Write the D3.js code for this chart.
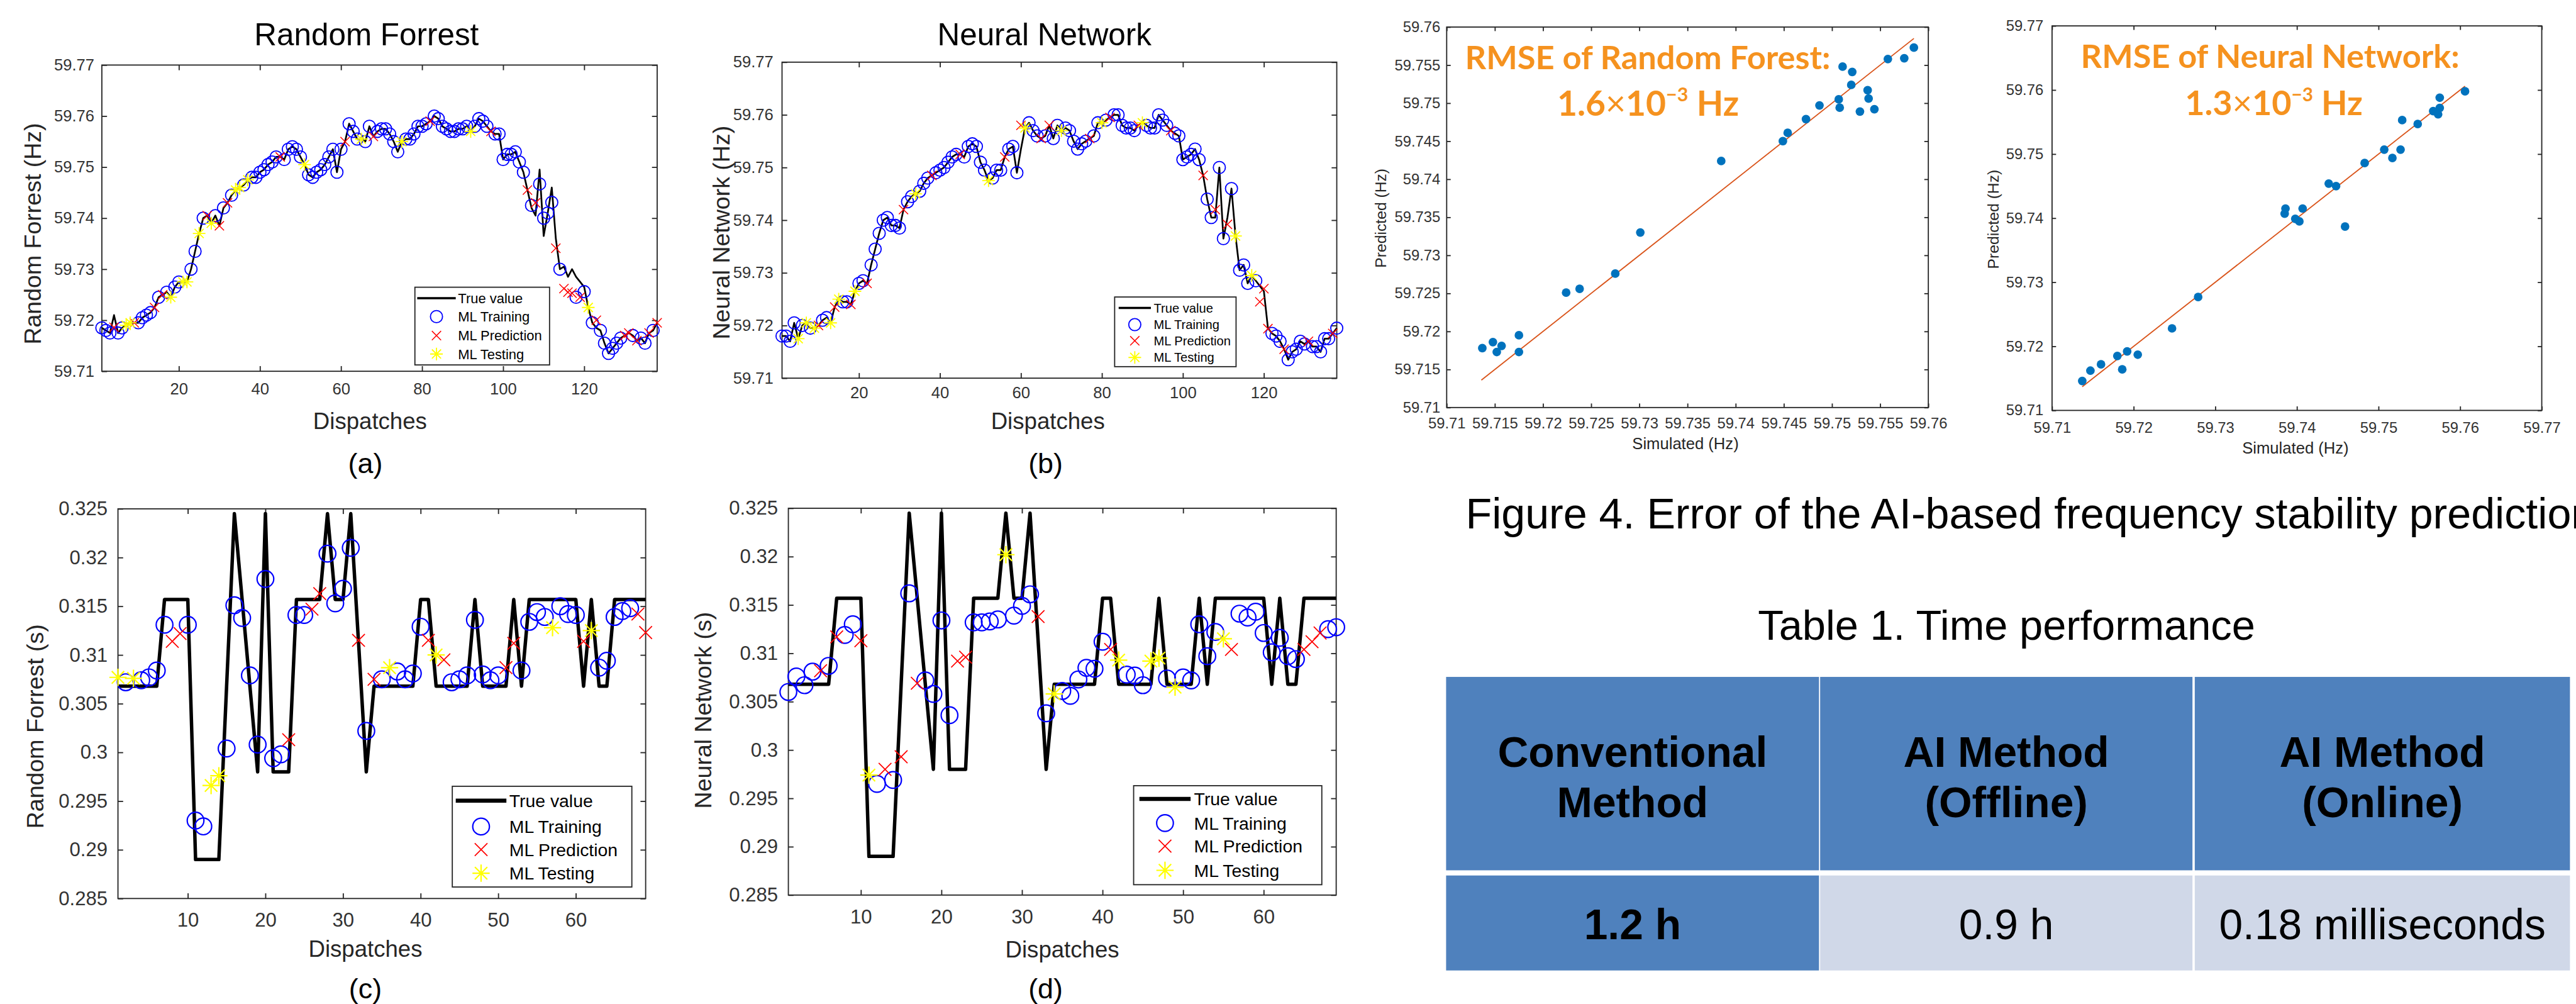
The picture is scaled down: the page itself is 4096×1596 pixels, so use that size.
<!DOCTYPE html>
<html>
<head>
<meta charset="utf-8">
<script src="https://cdn.jsdelivr.net/npm/d3@7"></script>
<style>
  body { margin: 0; background: #fff; overflow: hidden; }
  svg { display: block; }
</style>
</head>
<body>
<script>
// ---- data ----
const trueA = [
  59.7185, 59.718, 59.7175, 59.721, 59.7175, 59.7185, 59.719, 59.7195, 59.7195, 59.7195,
  59.7205, 59.721, 59.7215, 59.7225, 59.7245, 59.725, 59.7255, 59.7245, 59.7265, 59.7275,
  59.7275, 59.7275, 59.730, 59.7335, 59.737, 59.740, 59.7405, 59.739, 59.7405, 59.7385,
  59.742, 59.743, 59.7445, 59.7455, 59.746, 59.7465, 59.7475, 59.748, 59.748, 59.749,
  59.7495, 59.7505, 59.751, 59.752, 59.752, 59.7515, 59.7535, 59.754, 59.7535, 59.752,
  59.7505, 59.7485, 59.748, 59.749, 59.7495, 59.7505, 59.752, 59.7535, 59.749, 59.7535,
  59.755, 59.7585, 59.757, 59.7555, 59.7555, 59.755, 59.758, 59.756, 59.757, 59.7575,
  59.7575, 59.7565, 59.755, 59.753, 59.755, 59.7555, 59.7555, 59.7565, 59.758, 59.758,
  59.7585, 59.759, 59.760, 59.7595, 59.758, 59.7575, 59.757, 59.757, 59.7575, 59.7575,
  59.758, 59.757, 59.758, 59.7595, 59.759, 59.758, 59.757, 59.7565, 59.7565, 59.7515,
  59.7525, 59.7525, 59.753, 59.751, 59.749, 59.7455, 59.742, 59.7405, 59.7495, 59.7365,
  59.741, 59.746, 59.736, 59.730, 59.7305, 59.7285, 59.730, 59.7285, 59.7275, 59.7265,
  59.7225, 59.7195, 59.7185, 59.718, 59.7155, 59.7135, 59.7145, 59.7155, 59.7165, 59.717,
  59.7175, 59.717, 59.716, 59.7165, 59.7155, 59.7175, 59.718, 59.7195
];
const devA = [[4, 59.7186], [107, 59.7425], [108, 59.743], [109, 59.7467], [110, 59.740],
  [112, 59.7431], [113, 59.7341], [115, 59.7262], [116, 59.7255], [117, 59.7253],
  [118, 59.7245], [119, 59.7245], [120, 59.7256], [121, 59.7225], [123, 59.720]];
const testA = [7, 8, 18, 21, 22, 25, 28, 34, 35, 37, 51, 65, 75, 92, 121];
const predIdxA = [4, 9, 14, 16, 27, 30, 32, 45, 61, 68, 82, 97, 106, 108, 113, 115, 116, 117, 119, 123, 130, 131, 133, 136, 138];

const trueB = [
  59.718, 59.718, 59.717, 59.7205, 59.7175, 59.720, 59.7205, 59.7195, 59.7195, 59.720,
  59.721, 59.7215, 59.7205, 59.7235, 59.725, 59.7245, 59.7245, 59.724, 59.7265, 59.728,
  59.7285, 59.728, 59.7315, 59.7345, 59.7375, 59.740, 59.7405, 59.739, 59.739, 59.7385,
  59.742, 59.7435, 59.7445, 59.745, 59.7455, 59.747, 59.748, 59.7485, 59.749, 59.7495,
  59.750, 59.751, 59.752, 59.7525, 59.7525, 59.752, 59.754, 59.7545, 59.754, 59.751,
  59.7495, 59.7475, 59.748, 59.7495, 59.7495, 59.752, 59.7535, 59.754, 59.749, 59.7535,
  59.7575, 59.7585, 59.757, 59.756, 59.7555, 59.756, 59.758, 59.7555, 59.758, 59.757,
  59.7575, 59.757, 59.755, 59.7535, 59.7545, 59.755, 59.7555, 59.756, 59.7585, 59.7585,
  59.759, 59.7595, 59.760, 59.760, 59.758, 59.7575, 59.7575, 59.757, 59.758, 59.7585,
  59.758, 59.7575, 59.7575, 59.760, 59.759, 59.758, 59.757, 59.7565, 59.756, 59.7515,
  59.752, 59.7525, 59.7535, 59.7515, 59.7485, 59.744, 59.7405, 59.7405, 59.750, 59.7365,
  59.7405, 59.746, 59.737, 59.7305, 59.7315, 59.728, 59.7295, 59.7285, 59.7275, 59.7265,
  59.7195, 59.7185, 59.718, 59.717, 59.7155, 59.7135, 59.715, 59.7155, 59.717, 59.7165,
  59.717, 59.716, 59.716, 59.715, 59.7175, 59.7175, 59.7185, 59.7195
];
const devB = [[60, 59.758], [108, 59.742], [111, 59.7392], [119, 59.7245], [120, 59.727], [121, 59.7194]];
const testB = [5, 7, 9, 13, 15, 19, 34, 52, 61, 70, 80, 90, 113, 117];
const predIdxB = [10, 14, 18, 22, 31, 38, 45, 56, 60, 65, 67, 77, 82, 89, 97, 105, 108, 111, 119, 120, 121, 125, 131, 137];

const trueC = [
  0.3068, 0.3068, 0.3068, 0.3068, 0.3068, 0.3068, 0.3157, 0.3157, 0.3157, 0.3157,
  0.289, 0.289, 0.289, 0.289, 0.3068, 0.3245, 0.3157, 0.3068, 0.298, 0.3245,
  0.298, 0.298, 0.298, 0.3157, 0.3157, 0.3157, 0.3157, 0.3245, 0.3157, 0.3157,
  0.3245, 0.3113, 0.298, 0.3068, 0.3068, 0.3068, 0.3068, 0.3068, 0.3068, 0.3157,
  0.3157, 0.3068, 0.3068, 0.3068, 0.3068, 0.3068, 0.3157, 0.3068, 0.3068, 0.3068,
  0.3068, 0.3157, 0.3068, 0.3157, 0.3157, 0.3157, 0.3157, 0.3157, 0.3157, 0.3157,
  0.3068, 0.3157, 0.3068, 0.3068, 0.3157, 0.3157, 0.3157, 0.3157, 0.3157
];
const predC = [
  0.3077, 0.3072, 0.3076, 0.3074, 0.3077, 0.3084, 0.3131, 0.3114, 0.3122, 0.3131,
  0.293, 0.2924, 0.2966, 0.2976, 0.3004, 0.3151, 0.3138, 0.3079, 0.3008, 0.3178,
  0.2994, 0.2998, 0.3013, 0.3141, 0.3141, 0.3147, 0.3163, 0.3204, 0.3153, 0.3168,
  0.321, 0.3115, 0.3022, 0.3075, 0.3075, 0.3087, 0.3083, 0.3075, 0.3081, 0.3129,
  0.3115, 0.31, 0.3095, 0.3072, 0.3075, 0.3079, 0.3136, 0.308, 0.3074, 0.3079,
  0.3087, 0.3112, 0.3084, 0.3134, 0.3144, 0.3139, 0.3128, 0.315, 0.3142, 0.3141,
  0.3114, 0.3125, 0.3087, 0.3094, 0.3139, 0.3145, 0.3148, 0.3142, 0.3123
];
const testC = [1, 3, 13, 14, 36, 42, 57, 62];
const predIdxC = [8, 9, 23, 26, 27, 32, 34, 41, 43, 51, 52, 61, 68, 69];

const predD = [
  0.306, 0.3076, 0.3067, 0.3081, 0.3082, 0.3087, 0.3117, 0.3119, 0.313, 0.3113,
  0.2974, 0.2965, 0.298, 0.2969, 0.2993, 0.3162, 0.3069, 0.3072, 0.3058, 0.3134,
  0.3036, 0.3092, 0.3096, 0.3132, 0.3132, 0.3133, 0.3135, 0.3202, 0.3139, 0.3149,
  0.3161, 0.3138, 0.3038, 0.3058, 0.3061, 0.3056, 0.3073, 0.3085, 0.3084, 0.3112,
  0.3104, 0.3093, 0.3078, 0.3077, 0.3067, 0.3092, 0.3095, 0.3074, 0.3065, 0.3075,
  0.3072, 0.313, 0.3097, 0.3122, 0.3115, 0.3104, 0.3141, 0.3137, 0.3143, 0.3121,
  0.3101, 0.3116, 0.3097, 0.3094, 0.3104, 0.3112, 0.3121, 0.3125, 0.3127
];
const testD = [11, 28, 34, 42, 46, 47, 49, 55];
const predIdxD = [5, 7, 10, 13, 15, 17, 22, 23, 32, 41, 56, 65, 66, 67];

const simRF = [59.7137, 59.7148, 59.7152, 59.7157, 59.7175, 59.7175, 59.7224, 59.7238, 59.7275,
  59.7301, 59.7385, 59.7449, 59.7454, 59.7473, 59.7487, 59.7507, 59.7508, 59.7511, 59.7521,
  59.752, 59.7529, 59.7537, 59.7538, 59.7544, 59.7558, 59.7575, 59.7585];
const prdRF = [59.7178, 59.7186, 59.7173, 59.7181, 59.7195, 59.7173, 59.7251, 59.7256, 59.7276,
  59.733, 59.7424, 59.745, 59.7461, 59.7479, 59.7497, 59.7505, 59.7494, 59.7548, 59.7541,
  59.7524, 59.7489, 59.7517, 59.7506, 59.7492, 59.7558, 59.7559, 59.7573];
const fitRF = [59.7136, 59.7585];

const simNN = [59.7137, 59.7147, 59.716, 59.718, 59.7186, 59.7192, 59.7205, 59.7247, 59.7279,
  59.7385, 59.7386, 59.7398, 59.7403, 59.7407, 59.7439, 59.7448, 59.7459, 59.7483, 59.7507,
  59.7517, 59.7527, 59.7529, 59.7548, 59.7567, 59.7573, 59.7575, 59.7575, 59.7606];
const prdNN = [59.7146, 59.7162, 59.7172, 59.7185, 59.7164, 59.7192, 59.7187, 59.7228, 59.7277,
  59.7407, 59.7415, 59.7399, 59.7395, 59.7415, 59.7454, 59.745, 59.7387, 59.7486, 59.7507,
  59.7494, 59.7507, 59.7553, 59.7547, 59.7567, 59.7562, 59.7588, 59.7572, 59.7598];
const fitNN = [59.7137, 59.7606];

const freqTicks = [59.71, 59.72, 59.73, 59.74, 59.75, 59.76, 59.77];
const dispTicksAB = [20, 40, 60, 80, 100, 120];
const timeTicks = [0.285, 0.29, 0.295, 0.3, 0.305, 0.31, 0.315, 0.32, 0.325];
const dispTicksCD = [10, 20, 30, 40, 50, 60];
const scatTicksRF = [59.71, 59.715, 59.72, 59.725, 59.73, 59.735, 59.74, 59.745, 59.75, 59.755, 59.76];

const legendLabels = ['True value', 'ML Training', 'ML Prediction', 'ML Testing'];
const tableHeader = [['Conventional', 'Method'], ['AI Method', '(Offline)'], ['AI Method', '(Online)']];
const tableRow = ['1.2 h', '0.9 h', '0.18 milliseconds'];

// ---- drawing ----
const FONT = '"Liberation Sans", Arial, sans-serif';
const AX = '#262626';
const ORANGE = '#F5921F';

const svg = d3.select('body').append('svg').attr('width', 4096).attr('height', 1596);
const root = svg.append('g').attr('transform', 'scale(0.915)');

function drawAxes(g, x, y, box, o) {
  const fmt = d => String(d);
  const none = () => '';
  const bottom = g.append('g').attr('transform', `translate(0,${box.y1})`)
    .call(d3.axisBottom(x).tickValues(o.xTicks).tickFormat(fmt).tickSize(-o.tick).tickSizeOuter(0).tickPadding(o.padX));
  const left = g.append('g').attr('transform', `translate(${box.x0},0)`)
    .call(d3.axisLeft(y).tickValues(o.yTicks).tickFormat(fmt).tickSize(-o.tick).tickSizeOuter(0).tickPadding(o.padY));
  const top = g.append('g').attr('transform', `translate(0,${box.y0})`)
    .call(d3.axisTop(x).tickValues(o.xTicks).tickFormat(none).tickSize(-o.tick).tickSizeOuter(0));
  const right = g.append('g').attr('transform', `translate(${box.x1},0)`)
    .call(d3.axisRight(y).tickValues(o.yTicks).tickFormat(none).tickSize(-o.tick).tickSizeOuter(0));
  [bottom, left, top, right].forEach(a => {
    a.attr('font-family', FONT).attr('font-size', o.fs);
    a.select('.domain').remove();
    a.selectAll('.tick line').attr('stroke', AX).attr('stroke-width', 2);
    a.selectAll('.tick text').attr('fill', '#333');
  });
  g.append('rect')
    .attr('x', box.x0).attr('y', box.y0)
    .attr('width', box.x1 - box.x0).attr('height', box.y1 - box.y0)
    .attr('fill', 'none').attr('stroke', AX).attr('stroke-width', 2);
}

const xPath = s => `M${-s},${-s}L${s},${s}M${-s},${s}L${s},${-s}`;
const starPath = s => {
  const d = s * 0.72;
  return `M${-s},0L${s},0M0,${-s}L0,${s}M${-d},${-d}L${d},${d}M${-d},${d}L${d},${-d}`;
};

function drawMarker(g, kind, cx, cy, m) {
  if (kind === 'r') {
    g.append('circle').attr('cx', cx).attr('cy', cy).attr('r', m.r)
      .attr('fill', 'none').attr('stroke', '#0000FF').attr('stroke-width', m.sw);
  } else if (kind === 'p') {
    g.append('path').attr('transform', `translate(${cx},${cy})`).attr('d', xPath(m.xs))
      .attr('fill', 'none').attr('stroke', '#FF0000').attr('stroke-width', m.sw * 0.8);
  } else {
    g.append('path').attr('transform', `translate(${cx},${cy})`).attr('d', starPath(m.ss))
      .attr('fill', 'none').attr('stroke', '#FFFF00').attr('stroke-width', m.sw);
  }
}

function text(g, str, x, y, fs, opts = {}) {
  const t = g.append('text').attr('x', x).attr('y', y)
    .attr('font-family', opts.family || FONT).attr('font-size', fs)
    .attr('fill', opts.fill || '#000').attr('text-anchor', opts.anchor || 'middle')
    .text(str);
  if (opts.weight) t.attr('font-weight', opts.weight);
  return t;
}

function seriesPanel(p) {
  const g = root.append('g');
  const box = p.box;
  const x = d3.scaleLinear().domain(p.xDom).range([box.x0, box.x1]);
  const y = d3.scaleLinear().domain(p.yDom).range([box.y1, box.y0]);
  drawAxes(g, x, y, box, p.axis);

  const xs = d3.range(1, p.truth.length + 1);
  g.append('path').datum(xs)
    .attr('d', d3.line().x(i => x(i)).y(i => y(p.truth[i - 1])))
    .attr('fill', 'none').attr('stroke', '#000').attr('stroke-width', p.lw)
    .attr('stroke-linejoin', 'round');

  const dev = new Map(p.dev || []);
  const val = i => p.pred ? p.pred[i - 1] : (dev.has(i) ? dev.get(i) : p.truth[i - 1]);
  const kind = i => p.test.includes(i) ? 't' : (p.predIdx.includes(i) ? 'p' : 'r');
  const mg = g.append('g');
  ['r', 'p', 't'].forEach(k => {
    xs.filter(i => kind(i) === k).forEach(i => drawMarker(mg, k, x(i), y(val(i)), p.m));
  });

  // legend
  const L = p.legend;
  g.append('rect').attr('x', L.x0).attr('y', L.y0)
    .attr('width', L.x1 - L.x0).attr('height', L.y1 - L.y0)
    .attr('fill', '#fff').attr('stroke', AX).attr('stroke-width', 2);
  g.append('line').attr('x1', L.lx0).attr('x2', L.lx1).attr('y1', L.rows[0]).attr('y2', L.rows[0])
    .attr('stroke', '#000').attr('stroke-width', p.lw + 1);
  ['r', 'p', 't'].forEach((k, j) => drawMarker(g, k, (L.lx0 + L.lx1) / 2, L.rows[j + 1], p.m));
  legendLabels.forEach((s, j) => text(g, s, L.tx, L.rows[j] + L.fs * 0.36, L.fs, { anchor: 'start' }));

  // labels
  if (p.title) text(g, p.title, p.titleX, 79, 54);
  text(g, p.ylabel, 0, 0, 41, { fill: AX })
    .attr('transform', `translate(${p.ylab[0]},${p.ylab[1]}) rotate(-90)`).attr('x', 0).attr('y', 0)
    .attr('dy', '0.35em');
  text(g, 'Dispatches', p.xlab[0], p.xlab[1], 40, { fill: AX });
  text(g, p.tag, p.tagPos[0], p.tagPos[1], 49);
}

const mAB = { r: 10.5, xs: 8, ss: 11, sw: 2 };
const mCD = { r: 14.5, xs: 11, ss: 15, sw: 2.4 };

seriesPanel({
  box: { x0: 177, x1: 1142, y0: 113, y1: 645 }, xDom: [1, 138], yDom: [59.71, 59.77],
  axis: { xTicks: dispTicksAB, yTicks: freqTicks, tick: 9, fs: 28, padX: 20, padY: 13 },
  truth: trueA, dev: devA, test: testA, predIdx: predIdxA, lw: 3, m: mAB,
  legend: { x0: 721, x1: 955, y0: 499, y1: 634, rows: [518, 550, 583, 615], lx0: 725, lx1: 792, tx: 796, fs: 24 },
  title: 'Random Forrest', titleX: 637, ylabel: 'Random Forrest (Hz)', ylab: [57, 406],
  xlab: [643, 745], tag: '(a)', tagPos: [635, 822]
});
seriesPanel({
  box: { x0: 1359, x1: 2323, y0: 108, y1: 657 }, xDom: [1, 138], yDom: [59.71, 59.77],
  axis: { xTicks: dispTicksAB, yTicks: freqTicks, tick: 9, fs: 28, padX: 15, padY: 15 },
  truth: trueB, dev: devB, test: testB, predIdx: predIdxB, lw: 3, m: mAB,
  legend: { x0: 1937, x1: 2148, y0: 516, y1: 637, rows: [535, 564, 592, 621], lx0: 1944, lx1: 2000, tx: 2005, fs: 22 },
  title: 'Neural Network', titleX: 1815, ylabel: 'Neural Network (Hz)', ylab: [1253, 404],
  xlab: [1821, 745], tag: '(b)', tagPos: [1817, 822]
});
seriesPanel({
  box: { x0: 205, x1: 1122, y0: 884, y1: 1561 }, xDom: [1, 69], yDom: [0.285, 0.325],
  axis: { xTicks: dispTicksCD, yTicks: timeTicks, tick: 9, fs: 34, padX: 25, padY: 18 },
  truth: trueC, pred: predC, test: testC, predIdx: predIdxC, lw: 6, m: mCD,
  legend: { x0: 786, x1: 1098, y0: 1366, y1: 1541, rows: [1391, 1436, 1476, 1517], lx0: 792, lx1: 880, tx: 885, fs: 31 },
  ylabel: 'Random Forrest (s)', ylab: [61, 1262],
  xlab: [635, 1662], tag: '(c)', tagPos: [635, 1734]
});
seriesPanel({
  box: { x0: 1370, x1: 2322, y0: 883, y1: 1555 }, xDom: [1, 69], yDom: [0.285, 0.325],
  axis: { xTicks: dispTicksCD, yTicks: timeTicks, tick: 9, fs: 34, padX: 25, padY: 18 },
  truth: trueC, pred: predD, test: testD, predIdx: predIdxD, lw: 6, m: mCD,
  legend: { x0: 1970, x1: 2297, y0: 1365, y1: 1537, rows: [1388, 1430, 1470, 1512], lx0: 1980, lx1: 2069, tx: 2075, fs: 31 },
  ylabel: 'Neural Network (s)', ylab: [1222, 1234],
  xlab: [1846, 1663], tag: '(d)', tagPos: [1817, 1734]
});

function fitText(t, target) {
  const w = t.node().getComputedTextLength();
  const f = +t.attr('font-size');
  t.attr('font-size', f * target / w);
}

function scatterPanel(p) {
  const g = root.append('g');
  const box = p.box;
  const x = d3.scaleLinear().domain(p.dom).range([box.x0, box.x1]);
  const y = d3.scaleLinear().domain(p.dom).range([box.y1, box.y0]);
  drawAxes(g, x, y, box, p.axis);
  g.append('line')
    .attr('x1', x(p.fit[0])).attr('y1', y(p.fit[0]))
    .attr('x2', x(p.fit[1])).attr('y2', y(p.fit[1]))
    .attr('stroke', '#D95319').attr('stroke-width', 2);
  g.selectAll('circle.pt').data(p.sim).enter().append('circle')
    .attr('class', 'pt')
    .attr('cx', d => x(d)).attr('cy', (d, i) => y(p.prd[i])).attr('r', 7.5)
    .attr('fill', '#0072BD');
  text(g, 'Simulated (Hz)', p.xlab[0], p.xlab[1], 28, { fill: AX });
  text(g, 'Predicted (Hz)', 0, 0, 27, { fill: AX })
    .attr('transform', `translate(${p.ylab[0]},${p.ylab[1]}) rotate(-90)`).attr('dy', '0.35em');

  // annotation: Calibri-like bold, squeezed to the reference width
  const fam = 'Lato, "Open Sans", sans-serif';
  text(g, p.rmseTitle, p.l1[0], p.l1[2], 56, { anchor: 'start', family: fam, fill: ORANGE, weight: 700 })
    .attr('textLength', p.l1[1] - p.l1[0]).attr('lengthAdjust', 'spacingAndGlyphs');
  const t2 = g.append('text').attr('x', p.l2[0]).attr('y', p.l2[2])
    .attr('font-family', fam).attr('font-weight', 700)
    .attr('font-size', 50).attr('fill', ORANGE);
  t2.append('tspan').text(p.rmseVal);
  t2.append('tspan').attr('font-weight', 400).text('\u00D7');
  t2.append('tspan').text('10');
  t2.append('tspan').attr('font-size', '0.55em').attr('dy', '-0.75em').text('\u22123');
  t2.append('tspan').attr('dy', '0.41em').text('\u00A0Hz');
  fitText(t2, p.l2[1] - p.l2[0]);
}

scatterPanel({
  box: { x0: 2514, x1: 3351, y0: 47, y1: 708 }, dom: [59.71, 59.76],
  axis: { xTicks: scatTicksRF, yTicks: scatTicksRF, tick: 7, fs: 26, padX: 18, padY: 11 },
  sim: simRF, prd: prdRF, fit: fitRF,
  xlab: [2929, 780], ylab: [2399, 379],
  rmseTitle: 'RMSE of Random Forest:', rmseVal: '1.6',
  l1: [2546, 3181, 120], l2: [2706, 3022, 201]
});
scatterPanel({
  box: { x0: 3566, x1: 4417, y0: 45, y1: 713 }, dom: [59.71, 59.77],
  axis: { xTicks: freqTicks, yTicks: freqTicks, tick: 7, fs: 26, padX: 20, padY: 15 },
  sim: simNN, prd: prdNN, fit: fitNN,
  xlab: [3989, 788], ylab: [3464, 381],
  rmseTitle: 'RMSE of Neural Network:', rmseVal: '1.3',
  l1: [3616, 4274, 118], l2: [3797, 4106, 200]
});

// caption and table
text(root, 'Figure 4. Error of the AI-based frequency stability prediction', 2547, 918, 74.5, { anchor: 'start' });
text(root, 'Table 1. Time performance', 3487, 1111, 73);

const colX = [[2513, 3161], [3163, 3810], [3814, 4466]];
const hdr = { y0: 1176, y1: 1512 };
const row = { y0: 1521, y1: 1686 };
colX.forEach((c, j) => {
  root.append('rect').attr('x', c[0]).attr('y', hdr.y0).attr('width', c[1] - c[0]).attr('height', hdr.y1 - hdr.y0)
    .attr('fill', '#4F81BD');
  root.append('rect').attr('x', c[0]).attr('y', row.y0).attr('width', c[1] - c[0]).attr('height', row.y1 - row.y0)
    .attr('fill', j === 0 ? '#4F81BD' : '#D0D8E8');
  const cx = (c[0] + c[1]) / 2;
  tableHeader[j].forEach((s, k) => text(root, s, cx, k === 0 ? 1332 : 1420, 74, { weight: 700 }));
  text(root, tableRow[j], cx, 1632, 74, { weight: j === 0 ? 700 : 400 });
});
</script>
</body>
</html>
